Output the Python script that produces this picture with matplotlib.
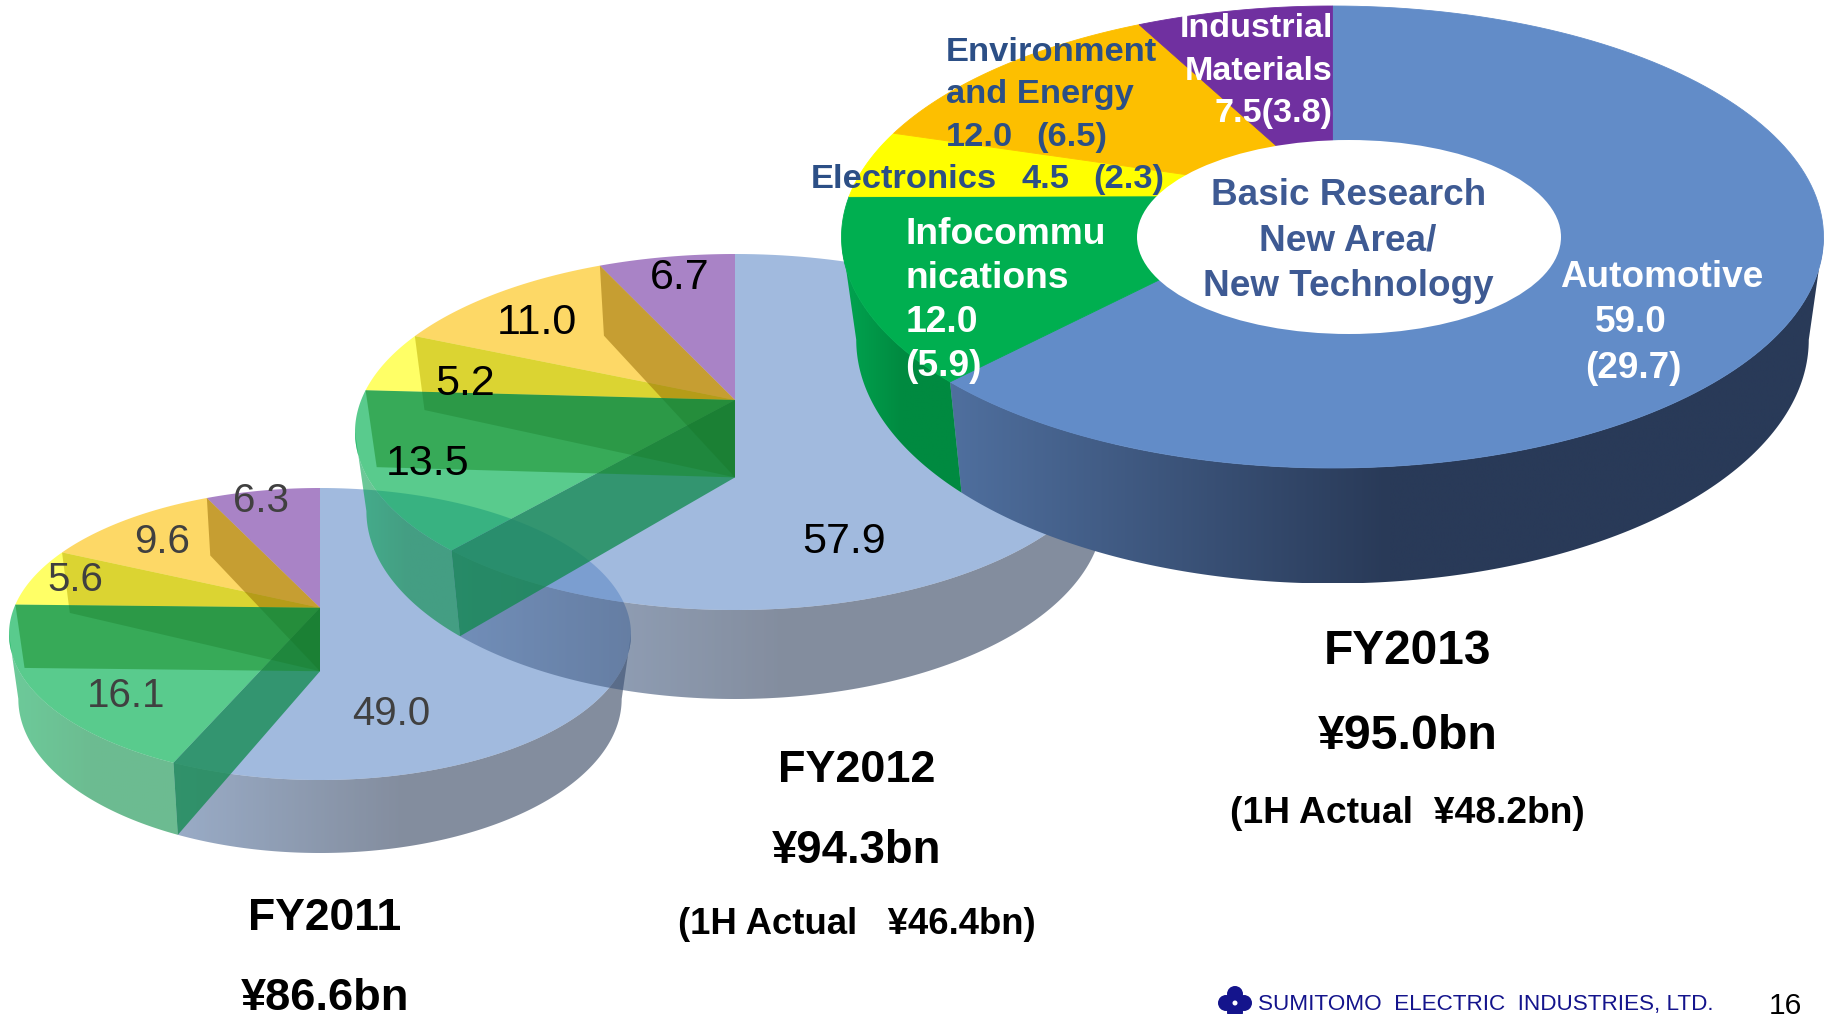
#!/usr/bin/env python3
# Sales by segment for three fiscal years, drawn as stacked looking 3D pies.
# Axes are in image pixels with y going down, so layout numbers read straight off the reference.

import numpy as np
import matplotlib
matplotlib.use("Agg")
import matplotlib.pyplot as plt
from matplotlib.patches import Polygon, Ellipse, Circle

plt.rcParams['font.family'] = ['Liberation Sans', 'DejaVu Sans']

# --- DATA ---
YEARS = ["FY2011", "FY2012", "FY2013"]
TOTALS = ["¥86.6bn", "¥94.3bn", "¥95.0bn"]
AUTOMOTIVE = [49.0, 57.9, 59.0]
INFOCOM = [16.1, 13.5, 12.0]
ELECTRONICS = [5.6, 5.2, 4.5]
ENVIRONMENT = [9.6, 11.0, 12.0]
INDUSTRIAL = [6.3, 6.7, 7.5]
FIRST_HALF = ["(1H Actual   ¥46.4bn)", "(1H Actual  ¥48.2bn)"]

# --- STYLE ---
W, H = 1827, 1014
TOP_COLORS = ["#628CC8", "#00AF50", "#FFFF00", "#FDBF00", "#7030A0"]
TOP_FADE = [0.6, 0.65, 0.6, 0.6, 0.6]
BLUE_WALL = ["#4F6F9E", "#293A58", "#293A58"]
GREEN_WALL = ["#00A550", "#008A40", "#008A40"]
WALL_FADE = 0.58
# inner walls seen through the see-through tops
TEAL_WALL = "#0E894C"
GREEN_BAND = "#168B25"
YELLOW_BAND = "#B9AB00"
ORANGE_BAND = "#906500"
LOWER_BAND = "#145A1E"

# cx, cy, rx, ry and whether the pie is faded, back pie last
PIES = [(320, 634, 311, 146, True),
        (735, 432, 380, 178, True),
        (1332.5, 237, 491, 231, False)]

TILT = 11      # perspective pull on the slice angles, degrees
APEX_UP = 0.18
BOTTOM_DOWN = 0.445
BOTTOM_APEX = 0.435
BOTTOM_RX = 0.97
BOTTOM_RY = 1.055


def warp(deg):
    return deg - TILT * np.sin(np.radians(deg))


def rim(cx, cy, rx, ry, deg):
    t = np.radians(deg)
    return np.column_stack([cx + rx * np.sin(t), cy - ry * np.cos(t)])


def hex_rgb(c):
    return np.array(matplotlib.colors.to_rgb(c))


def gradient_wall(ax, pts, stops, alpha, z):
    # horizontal gradient clipped to the wall outline
    x0, x1 = pts[:, 0].min(), pts[:, 0].max()
    y0, y1 = pts[:, 1].min(), pts[:, 1].max()
    t = np.linspace(0, 1, 128)
    pos = np.linspace(0, 1, len(stops))
    rgb = np.array([hex_rgb(s) for s in stops])
    img = np.ones((1, 128, 4))
    for i in range(3):
        img[0, :, i] = np.interp(t, pos, rgb[:, i])
    img[0, :, 3] = alpha
    im = ax.imshow(img, extent=(x0, x1, y1, y0), aspect='auto', zorder=z, interpolation='bilinear')
    clip = Polygon(pts, closed=True, transform=ax.transData, fc='none', ec='none')
    ax.add_patch(clip)
    im.set_clip_path(clip)


def draw_pie(ax, idx, z):
    cx, cy, rx, ry, faded = PIES[idx]
    vals = np.array([AUTOMOTIVE[idx], INFOCOM[idx], ELECTRONICS[idx], ENVIRONMENT[idx], INDUSTRIAL[idx]])
    edges = warp(360 * np.concatenate([[0], np.cumsum(vals)]) / vals.sum())

    apex = (cx, cy - APEX_UP * ry)
    bot_apex = (cx, apex[1] + BOTTOM_APEX * ry)
    bot = (cx, cy + BOTTOM_DOWN * ry, rx * BOTTOM_RX, ry * BOTTOM_RY)

    # outer walls, only the part facing us
    for i, stops in enumerate([BLUE_WALL, GREEN_WALL]):
        a = np.linspace(max(edges[i], 90), min(edges[i + 1], 270), 160)
        pts = np.vstack([rim(cx, cy, rx, ry, a), rim(*bot, a)[::-1]])
        gradient_wall(ax, pts, stops, WALL_FADE if faded else 1, z)
        z += 1

    # top faces
    for i, c in enumerate(TOP_COLORS):
        a = np.linspace(edges[i], edges[i + 1], 160)
        pts = np.vstack([[apex], rim(cx, cy, rx, ry, a)])
        if faded:
            ax.add_patch(Polygon(pts, closed=True, fc=c, ec='none', lw=0, alpha=TOP_FADE[i], zorder=z))
        else:
            ax.add_patch(Polygon(pts, closed=True, fc=c, ec=c, lw=0.6, zorder=z))
        z += 1

    # walls between the slices show through the top
    if faded:
        def quad(e):
            return np.vstack([[apex], rim(cx, cy, rx, ry, [e]), rim(*bot, [e]), [bot_apex]])

        ax.add_patch(Polygon(quad(edges[1]), closed=True, fc=TEAL_WALL, ec='none', lw=0, alpha=0.75, zorder=z))
        z += 1

        # upper and lower part of the back walls tint differently
        a = np.linspace(edges[2], edges[5], 200)
        upper = Polygon(np.vstack([[apex], rim(cx, cy, rx, ry, a)]), closed=True, transform=ax.transData)
        a = np.linspace(edges[0], edges[2], 200)
        lower = Polygon(np.vstack([[apex], rim(cx, cy, rx, ry, a)]), closed=True, transform=ax.transData)
        for e, c in [(edges[3], YELLOW_BAND), (edges[4], ORANGE_BAND)]:
            top_part = Polygon(quad(e), closed=True, fc=c, ec='none', lw=0, alpha=0.5, zorder=z)
            ax.add_patch(top_part)
            top_part.set_clip_path(upper)
            low_part = Polygon(quad(e), closed=True, fc=LOWER_BAND, ec='none', lw=0, alpha=0.3, zorder=z)
            ax.add_patch(low_part)
            low_part.set_clip_path(lower)
            z += 1

        ax.add_patch(Polygon(quad(edges[2]), closed=True, fc=GREEN_BAND, ec='none', lw=0, alpha=0.5, zorder=z))
        z += 1
    return z


def label(ax, x, y, s, size, color='black', weight='normal', ha='center', **kw):
    # x, y given on the 1568 wide view of the slide
    k = W / 1568
    ax.text(x * k, y * k, s, fontsize=size, color=color, fontweight=weight, ha=ha, va='baseline',
            zorder=100, **kw)


def main():
    fig = plt.figure(figsize=(W / 100, H / 100), dpi=100)
    ax = fig.add_axes([0, 0, 1, 1])

    z = 1
    for i in range(3):
        z = draw_pie(ax, i, z)
    ax.add_patch(Ellipse((1349, 237), 424, 194, fc='white', ec='none', zorder=z))

    ax.set_xlim(0, W)
    ax.set_ylim(H, 0)
    ax.axis('off')

    # FY2013 labels
    navy = "#2C4F86"
    slate = "#3E5A93"
    label(ax, 1157, 176, "Basic Research", 26.6, slate, 'bold')
    label(ax, 1157, 215, "New Area/", 26.6, slate, 'bold')
    label(ax, 1157, 254, "New Technology", 26.6, slate, 'bold')
    label(ax, 1426, 246, "Automotive", 26.6, 'white', 'bold')
    label(ax, 1400, 285, f"{AUTOMOTIVE[2]:.1f}", 26.6, 'white', 'bold')
    label(ax, 1402, 324, "(29.7)", 26.6, 'white', 'bold')
    label(ax, 777, 209, "Infocommu", 26.8, 'white', 'bold', ha='left')
    label(ax, 777, 247, "nications", 26.8, 'white', 'bold', ha='left')
    label(ax, 777, 285, f"{INFOCOM[2]:.1f}", 26.8, 'white', 'bold', ha='left')
    label(ax, 777, 323, "(5.9)", 26.8, 'white', 'bold', ha='left')
    label(ax, 812, 52, "Environment", 24.8, navy, 'bold', ha='left')
    label(ax, 812, 88, "and Energy", 24.8, navy, 'bold', ha='left')
    label(ax, 812, 125, f"{ENVIRONMENT[2]:.1f}", 24.8, navy, 'bold', ha='left')
    label(ax, 889, 125, "(6.5)", 24.8, navy, 'bold', ha='left')
    label(ax, 696, 161, "Electronics", 24.8, navy, 'bold', ha='left')
    label(ax, 877, 161, f"{ELECTRONICS[2]:.1f}", 24.8, navy, 'bold', ha='left')
    label(ax, 938, 161, "(2.3)", 24.8, navy, 'bold', ha='left')
    label(ax, 1144, 32, "Industrial", 24.6, 'white', 'bold', ha='right')
    label(ax, 1144, 69, "Materials", 24.6, 'white', 'bold', ha='right')
    label(ax, 1144, 105, f"{INDUSTRIAL[2]:.1f}(3.8)", 24.6, 'white', 'bold', ha='right')

    # FY2012 values
    label(ax, 583, 248, f"{INDUSTRIAL[1]:.1f}", 31)
    label(ax, 461, 287, f"{ENVIRONMENT[1]:.1f}", 31)
    label(ax, 399, 339, f"{ELECTRONICS[1]:.1f}", 31)
    label(ax, 367, 408, f"{INFOCOM[1]:.1f}", 31)
    label(ax, 724, 475, f"{AUTOMOTIVE[1]:.1f}", 31)

    # FY2011 values
    grey = "#404040"
    label(ax, 224, 439, f"{INDUSTRIAL[0]:.1f}", 29, grey)
    label(ax, 139, 475, f"{ENVIRONMENT[0]:.1f}", 29, grey)
    label(ax, 65, 507, f"{ELECTRONICS[0]:.1f}", 29, grey)
    label(ax, 108, 607, f"{INFOCOM[0]:.1f}", 29, grey)
    label(ax, 336, 622, f"{AUTOMOTIVE[0]:.1f}", 29, grey)

    # captions under the pies
    label(ax, 279, 798, YEARS[0], 32, weight='bold')
    label(ax, 279, 867, TOTALS[0], 32.6, weight='bold')
    label(ax, 735, 671, YEARS[1], 32.4, weight='bold')
    label(ax, 735, 741, TOTALS[1], 32.8, weight='bold')
    label(ax, 735, 802, FIRST_HALF[0], 26.3, weight='bold')
    label(ax, 1208, 570, YEARS[2], 34.4, weight='bold')
    label(ax, 1208, 643, TOTALS[2], 34.8, weight='bold')
    label(ax, 1208, 706, FIRST_HALF[1], 26.8, weight='bold')

    # footer, runs off the bottom of the slide
    logo = "#14148C"
    for dx, dy in [(-9, 0), (9, 0), (0, -9), (0, 9)]:
        ax.add_patch(Circle((1235 + dx, 1003 + dy), 8, fc=logo, ec='none', zorder=100))
    ax.add_patch(Circle((1235, 1003), 2.5, fc='white', ec='none', zorder=101))
    ax.text(1258, 1010, "SUMITOMO  ELECTRIC  INDUSTRIES, LTD.", fontsize=16.2, color=logo, ha='left',
            va='baseline', zorder=100)
    ax.text(1785, 1014, "16", fontsize=21.6, color='black', ha='center', va='baseline', zorder=100)

    fig.savefig("out.png", dpi=100, facecolor='white')


if __name__ == "__main__":
    main()
